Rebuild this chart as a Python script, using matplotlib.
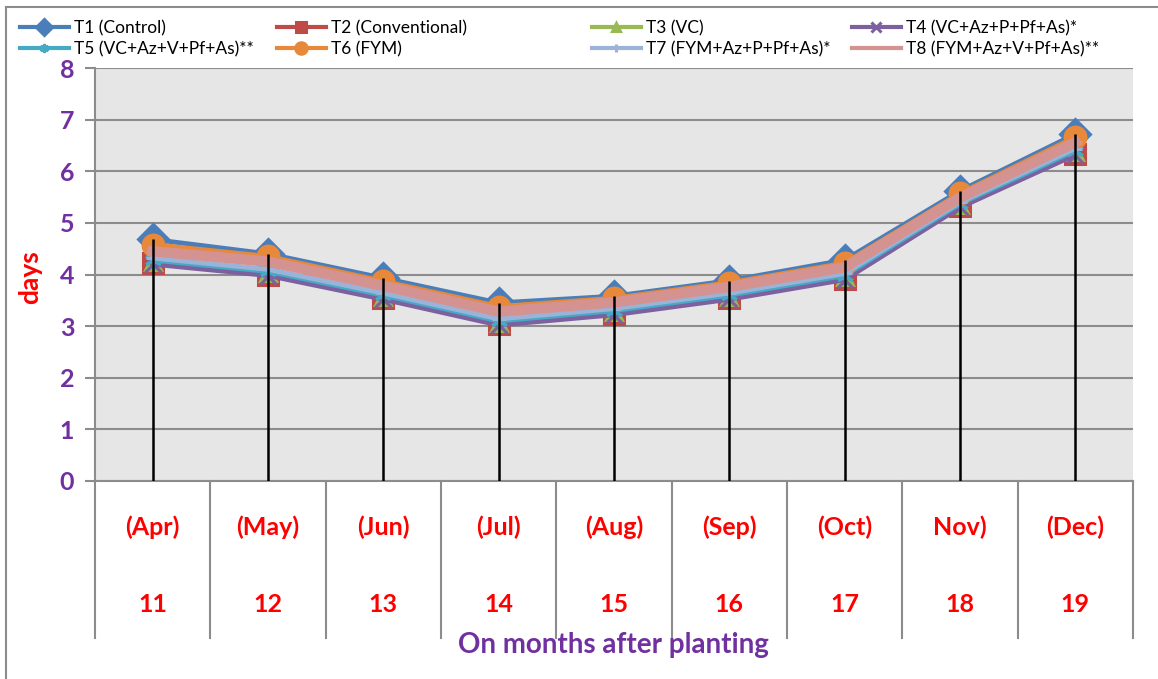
import matplotlib.pyplot as plt
from matplotlib.lines import Line2D
import matplotlib.transforms as mtransforms

plt.rcParams['font.family'] = ['Lato', 'DejaVu Sans']

# months after planting
months = ['(Apr)', '(May)', '(Jun)', '(Jul)', '(Aug)', '(Sep)', '(Oct)', 'Nov)', '(Dec)']
month_no = ['11', '12', '13', '14', '15', '16', '17', '18', '19']

# values (days)
t1 = [4.68, 4.40, 3.93, 3.45, 3.58, 3.88, 4.28, 5.62, 6.72]
t2 = [4.22, 4.00, 3.54, 3.04, 3.24, 3.54, 3.92, 5.32, 6.34]
t3 = [4.25, 4.03, 3.57, 3.07, 3.27, 3.57, 3.95, 5.34, 6.37]
t4 = [4.20, 3.98, 3.52, 3.02, 3.22, 3.52, 3.90, 5.30, 6.32]
t5 = [4.28, 4.06, 3.60, 3.10, 3.30, 3.60, 3.98, 5.37, 6.40]
t6 = [4.58, 4.35, 3.87, 3.38, 3.54, 3.84, 4.22, 5.57, 6.66]
t7 = [4.32, 4.10, 3.64, 3.14, 3.34, 3.64, 4.02, 5.40, 6.44]
t8 = [4.45, 4.25, 3.78, 3.28, 3.46, 3.76, 4.14, 5.49, 6.56]

names = ['T1 (Control)', 'T2 (Conventional)', 'T3 (VC)', 'T4 (VC+Az+P+Pf+As)*',
         'T5 (VC+Az+V+Pf+As)**', 'T6 (FYM)', 'T7 (FYM+Az+P+Pf+As)*', 'T8 (FYM+Az+V+Pf+As)**']
series = [t1, t2, t3, t4, t5, t6, t7, t8]
colors = ['#4A7EBB', '#BE4B48', '#98B954', '#7D60A0', '#46AAC5', '#E8883A', '#9BB3D9', '#D49391']
markers = ['D', 's', '^', 'x', (6, 2, 0), 'o', '+', '_']
msizes = [15, 14, 11, 12, 12, 15, 10, 10]
widths = [3.5, 3.5, 3.5, 3.5, 3.5, 3.5, 3.5, 7.5]

fig = plt.figure(figsize=(11.58, 6.79), dpi=100)
ax = fig.add_axes([95 / 1158, 1 - 481 / 679, (1133 - 95) / 1158, (481 - 68) / 679])
ax.set_facecolor('#E6E6E6')

x = list(range(len(months)))
lines = []
for i in range(len(series)):
    (ln,) = ax.plot(x, series[i], color=colors[i], lw=widths[i], marker=markers[i],
                    markersize=msizes[i], markeredgewidth=2.2, markerfacecolor=colors[i],
                    markeredgecolor=colors[i], label=names[i], zorder=3 + i)
    lines.append(ln)

# drop lines
ax.vlines(x, 0, t1, color='black', lw=1.8, zorder=20)

ax.set_xlim(-0.5, len(months) - 0.5)
ax.set_ylim(0, 8)
ax.set_yticks(range(9))
ax.grid(axis='y', color='#8C8C8C', lw=1.5)
ax.set_axisbelow(True)
ax.set_xticks([])
for s in ['top', 'right']:
    ax.spines[s].set_visible(False)
for s in ['left', 'bottom']:
    ax.spines[s].set_color('#8C8C8C')
    ax.spines[s].set_linewidth(1.5)
ax.tick_params(axis='y', length=7, width=1.5, color='#8C8C8C', pad=8,
               labelcolor='#7030A0', labelsize=18)
for lb in ax.get_yticklabels():
    lb.set_fontweight('bold')

# category separators and labels below the axis
trans = mtransforms.blended_transform_factory(ax.transData, ax.transAxes)
for k in range(len(months) + 1):
    ax.plot([k - 0.5, k - 0.5], [0, -157 / 413], color='#8C8C8C', lw=1.5,
            transform=trans, clip_on=False)
for k in range(len(months)):
    ax.text(k, -46 / 413, months[k], transform=trans, ha='center', va='center',
            color='#FF0000', fontsize=18, fontweight='bold')
    ax.text(k, -124 / 413, month_no[k], transform=trans, ha='center', va='center',
            color='#FF0000', fontsize=18, fontweight='bold')

fig.text(613 / 1158, 1 - 645 / 679, 'On months after planting', ha='center', va='center',
         color='#7030A0', fontsize=20, fontweight='bold')
fig.text(30 / 1158, 1 - 277 / 679, 'days', ha='center', va='center', rotation=90,
         color='#FF0000', fontsize=19, fontweight='bold')

# legend, four columns placed like the original
cols = [(0, 4), (1, 5), (2, 6), (3, 7)]
col_x = [20, 277, 592, 852]
for (a, b), cx in zip(cols, col_x):
    leg = fig.legend([lines[a], lines[b]], [names[a], names[b]], loc='upper left',
                     bbox_to_anchor=(cx / 1158, 1 - 20 / 679), frameon=False,
                     fontsize=12.5, handlelength=2.8, handletextpad=0.3,
                     labelspacing=0.3, markerscale=0.55, borderpad=0, borderaxespad=0)
    for h in leg.legend_handles:
        h.set_linewidth(3)

# outer frame (left and top edges)
fig.add_artist(Line2D([6 / 1158, 6 / 1158], [0, 1 - 7 / 679], color='#8C8C8C', lw=1.5))
fig.add_artist(Line2D([6 / 1158, 1], [1 - 7 / 679, 1 - 7 / 679], color='#8C8C8C', lw=1.5))

fig.savefig('out.png', dpi=100)
